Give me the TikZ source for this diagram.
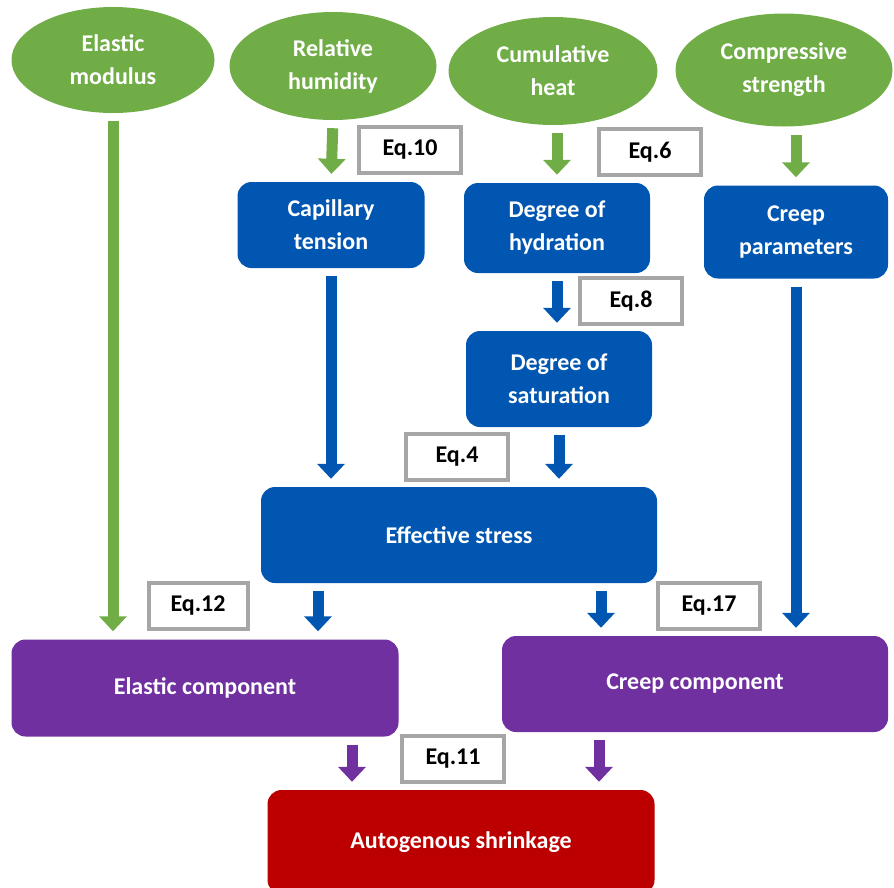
\documentclass[tikz,border=0pt]{standalone}
\usepackage{fontspec}
\setmainfont{Carlito}
\usepackage{tikz}
\usetikzlibrary{arrows.meta,shapes.geometric,positioning}
\definecolor{leafgreen}{RGB}{112,173,71}
\definecolor{boxblue}{RGB}{0,86,176}
\definecolor{boxpurple}{RGB}{112,48,160}
\definecolor{boxred}{RGB}{188,0,0}
\definecolor{eqgray}{RGB}{166,166,166}
\newcommand*{\lbl}{\bfseries\fontsize{24}{33}\selectfont}
\tikzstyle{input}=[ellipse,fill=leafgreen,text=white,inner sep=0pt,align=center,font=\lbl]
\tikzstyle{block}=[rectangle,rounded corners=14pt,text=white,inner sep=0pt,align=center,font=\lbl]
\tikzstyle{eqbox}=[rectangle,draw=eqgray,line width=4pt,fill=white,inner sep=0pt,minimum width=102pt,minimum height=46pt,font=\lbl]
\tikzstyle{flow}=[line width=11pt,-{Triangle[width=27pt,length=15pt]},shorten <=8pt,shorten >=8pt]

\begin{document}
\begin{tikzpicture}[x=1pt,y=-1pt]
            \useasboundingbox (0,0) rectangle (894,887);
            % inputs
            \node[input,minimum width=203pt,minimum height=106pt] (em) at (113,60) {Elastic\\modulus};
            \node[input,minimum width=207pt,minimum height=108pt] (rh) at (333,66) {Relative\\humidity};
            \node[input,minimum width=209pt,minimum height=108pt] (ch) at (553,71) {Cumulative\\heat};
            \node[input,minimum width=217pt,minimum height=113pt] (cs) at (784,70) {Compressive\\strength};
            % intermediate
            \node[block,fill=boxblue,minimum width=187pt,minimum height=86pt] (cap) at (331,225) {Capillary\\tension};
            \node[block,fill=boxblue,minimum width=186pt,minimum height=90pt] (hyd) at (557,228) {Degree of\\hydration};
            \node[block,fill=boxblue,minimum width=184pt,minimum height=93pt] (crp) at (796,232) {Creep\\parameters};
            \node[block,fill=boxblue,minimum width=186pt,minimum height=96pt] (sat) at (559,379) {Degree of\\saturation};
            \node[block,fill=boxblue,minimum width=396pt,minimum height=96pt] (eff) at (459,535) {Effective stress};
            % components
            \node[block,fill=boxpurple,minimum width=387pt,minimum height=97pt] (ec) at (205,688) {Elastic component};
            \node[block,fill=boxpurple,minimum width=386pt,minimum height=96pt] (cc) at (695,684) {Creep component};
            \node[block,fill=boxred,minimum width=387pt,minimum height=104pt] (shr) at (461,842) {Autogenous shrinkage};
            % equations
            \node[eqbox] (eq10) at (410,150) {Eq.10};
            \node[eqbox] (eq6) at (650,152) {Eq.6};
            \node[eqbox] (eq8) at (631,301) {Eq.8};
            \node[eqbox] (eq4) at (457,457) {Eq.4};
            \node[eqbox,minimum width=99pt] (eq12) at (198,606) {Eq.12};
            \node[eqbox] (eq17) at (709,606) {Eq.17};
            \node[eqbox] (eq11) at (453,759) {Eq.11};
            % arrows
            \draw[flow,leafgreen] (em.south) -- (em.south |- ec.north);
            \draw[flow,leafgreen] (rh.south) -- (cap.north);
            \draw[flow,leafgreen] (hyd.north |- ch.south) -- (hyd.north);
            \draw[flow,leafgreen] (crp.north |- cs.south) -- (crp.north);
            \draw[flow,boxblue] (cap.south) -- (cap.south |- eff.north);
            \draw[flow,boxblue] (hyd.south) -- (hyd.south |- sat.north);
            \draw[flow,boxblue] (sat.south) -- (sat.south |- eff.north);
            \draw[flow,boxblue] (crp.south) -- (crp.south |- cc.north);
            \draw[flow,boxblue] ([xshift=-141pt]eff.south) -- ([xshift=-141pt]eff.south |- ec.north);
            \draw[flow,boxblue] ([xshift=142pt]eff.south) -- ([xshift=142pt]eff.south |- cc.north);
            \draw[flow,boxpurple] ([xshift=147pt]ec.south) -- ([xshift=147pt]ec.south |- shr.north);
            \draw[flow,boxpurple] ([xshift=-96pt]cc.south) -- ([xshift=-96pt]cc.south |- shr.north);
\end{tikzpicture}
\end{document}
